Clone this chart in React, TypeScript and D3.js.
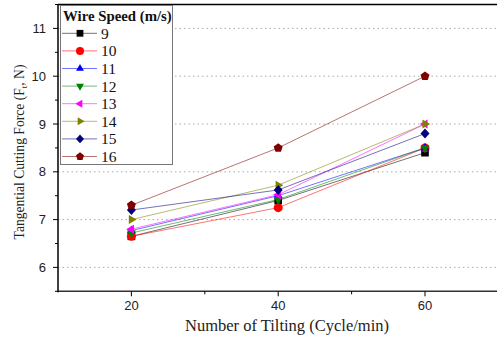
import React from "react";
import * as d3 from "d3";

const tilting = [20, 40, 60];
const speeds = ["9", "10", "11", "12", "13", "14", "15", "16"];
const force9 = [6.65, 7.4, 8.4];
const force10 = [6.65, 7.25, 8.5];
const force11 = [6.77, 7.5, 8.5];
const force12 = [6.72, 7.42, 8.5];
const force13 = [6.8, 7.52, 9.0];
const force14 = [7.0, 7.72, 9.0];
const force15 = [7.2, 7.62, 8.8];
const force16 = [7.3, 8.5, 10.0];
const seriesValues = [force9, force10, force11, force12, force13, force14, force15, force16];
const colors = ["#000000", "#ff0000", "#0000ff", "#008000", "#ff00ff", "#808000", "#000080", "#800000"];
const shapes = ["square", "circle", "up", "down", "left", "right", "diamond", "pentagon"];
const yTicks = [6, 7, 8, 9, 10, 11];
const yMinor = [5.5, 6.5, 7.5, 8.5, 9.5, 10.5, 11.5];
const xTicks = [20, 40, 60];
const xMinor = [30, 50];

function markerPath(shape: string, r: number): string {
  const tri = (angle: number) => {
    const pts = [0, 1, 2].map((i) => {
      const a = angle + (i * 2 * Math.PI) / 3;
      return [Math.cos(a) * r * 1.15, Math.sin(a) * r * 1.15];
    });
    return "M" + pts.map((p) => p.join(",")).join("L") + "Z";
  };
  switch (shape) {
    case "square":
      return `M${-r * 0.85},${-r * 0.85}h${r * 1.7}v${r * 1.7}h${-r * 1.7}Z`;
    case "circle":
      return d3.symbol(d3.symbolCircle, Math.PI * r * r)()!;
    case "up":
      return tri(-Math.PI / 2);
    case "down":
      return tri(Math.PI / 2);
    case "left":
      return tri(Math.PI);
    case "right":
      return tri(0);
    case "diamond":
      return `M0,${-r * 1.1}L${r},0L0,${r * 1.1}L${-r},0Z`;
    case "pentagon": {
      const pts = d3.range(5).map((i) => {
        const a = -Math.PI / 2 + (i * 2 * Math.PI) / 5;
        return [Math.cos(a) * r * 1.05, Math.sin(a) * r * 1.05];
      });
      return "M" + pts.map((p) => p.join(",")).join("L") + "Z";
    }
  }
  return "";
}

export default function App() {
  const width = 497;
  const height = 341;
  const left = 58;
  const top = 4.5;
  const bottom = 291.3;
  const x = d3.scaleLinear().domain([10, 70]).range([left, left + 440.4]);
  const y = d3.scaleLinear().domain([5.5, 11.5]).range([bottom, top]);
  const line = d3
    .line<[number, number]>()
    .x((d) => x(d[0]))
    .y((d) => y(d[1]));
  const serif = "'Liberation Serif', 'Times New Roman', serif";
  const sans = "'Liberation Sans', Arial, sans-serif";
  const r = 4.5;

  return (
    <svg width={width} height={height} style={{ position: "absolute", left: 0, top: 0 }}>
      <rect width={width} height={height} fill="#fff" />
      {yTicks.map((t) => (
        <line key={t} x1={left} x2={width} y1={y(t)} y2={y(t)} stroke="#aaa" strokeWidth={1} strokeDasharray="1.5,3" />
      ))}
      {/* axes frame */}
      <line x1={left} x2={width} y1={top} y2={top} stroke="#000" strokeWidth={1.5} />
      <line x1={left} x2={width} y1={bottom} y2={bottom} stroke="#333" strokeWidth={1.5} />
      <line x1={left} x2={left} y1={top} y2={bottom + 1} stroke="#000" strokeWidth={1.5} />
      {yTicks.map((t) => (
        <g key={t}>
          <line x1={left - 5} x2={left} y1={y(t)} y2={y(t)} stroke="#000" />
          <text x={left - 12} y={y(t)} dy="0.35em" textAnchor="end" fontFamily={sans} fontSize={13} fill="#222">
            {t}
          </text>
        </g>
      ))}
      {yMinor.map((t) => (
        <line key={t} x1={left - 3} x2={left} y1={y(t)} y2={y(t)} stroke="#000" />
      ))}
      {xTicks.map((t) => (
        <g key={t}>
          <line x1={x(t)} x2={x(t)} y1={bottom} y2={bottom + 5} stroke="#000" />
          <text x={x(t)} y={bottom + 19} textAnchor="middle" fontFamily={sans} fontSize={13} fill="#222">
            {t}
          </text>
        </g>
      ))}
      {xMinor.map((t) => (
        <line key={t} x1={x(t)} x2={x(t)} y1={bottom} y2={bottom + 3} stroke="#000" />
      ))}
      <text x={287} y={331} textAnchor="middle" fontFamily={serif} fontSize={16.5} fill="#222">
        Number of Tilting (Cycle/min)
      </text>
      <text
        transform={`translate(24,152) rotate(-90)`}
        textAnchor="middle"
        fontFamily={serif}
        fontSize={13.6}
        fill="#222"
      >
        Tangential Cutting Force (F<tspan fontSize={9} dy={3}>t</tspan>
        <tspan dy={-3}>, N)</tspan>
      </text>
      {/* series lines */}
      {seriesValues.map((vals, i) => (
        <path
          key={speeds[i]}
          d={line(vals.map((v, j) => [tilting[j], v] as [number, number]))!}
          fill="none"
          stroke={colors[i]}
          strokeOpacity={0.55}
          strokeWidth={1}
        />
      ))}
      {seriesValues.map((vals, i) =>
        vals.map((v, j) => (
          <path
            key={speeds[i] + "-" + j}
            d={markerPath(shapes[i], r)}
            transform={`translate(${x(tilting[j])},${y(v)})`}
            fill={colors[i]}
          />
        ))
      )}
      {/* legend */}
      <g>
        <rect x={60.5} y={5.5} width={112} height={159} fill="#fff" stroke="#777" strokeWidth={1} />
        <text x={63} y={21} fontFamily={serif} fontSize={14.8} fontWeight="bold" fill="#111">
          Wire Speed (m/s)
        </text>
        {speeds.map((s, i) => {
          const ly = 33.3 + i * 17.6;
          return (
            <g key={s}>
              <line x1={62} x2={97} y1={ly} y2={ly} stroke={colors[i]} strokeOpacity={0.55} />
              <path d={markerPath(shapes[i], 4)} transform={`translate(80,${ly})`} fill={colors[i]} />
              <text x={101} y={ly} dy="0.35em" fontFamily={serif} fontSize={15.5} fill="#111">
                {s}
              </text>
            </g>
          );
        })}
      </g>
    </svg>
  );
}
